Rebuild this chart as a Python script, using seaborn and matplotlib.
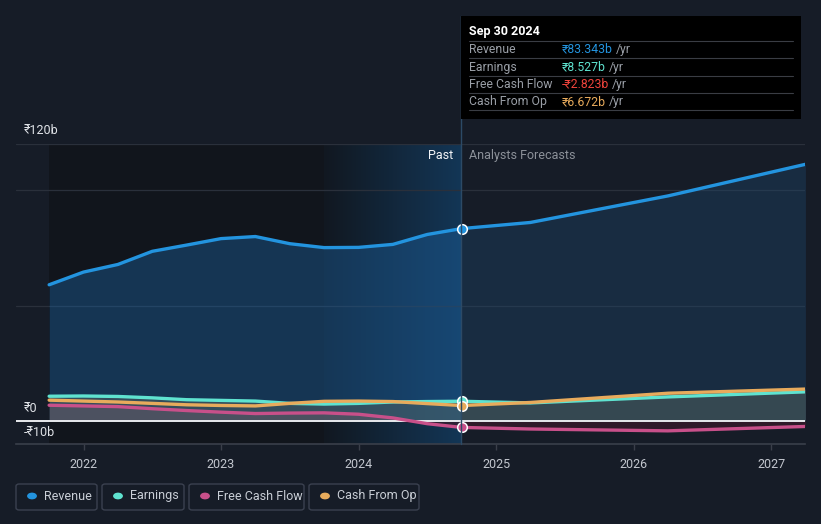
import numpy as np
import pandas as pd
import matplotlib
matplotlib.use("Agg")
import matplotlib.pyplot as plt
import seaborn as sns
from matplotlib.colors import LinearSegmentedColormap
from matplotlib.patches import Rectangle, FancyBboxPatch, Circle
from matplotlib.lines import Line2D

# Quarterly history (decimal years, Sep 2021 .. Sep 2024), values in ₹ billions
past_dates = [2021.75, 2022.0, 2022.25, 2022.5, 2022.75, 2023.0, 2023.25,
              2023.5, 2023.75, 2024.0, 2024.25, 2024.5, 2024.75]
past_revenue = [59.0, 64.5, 67.8, 73.5, 76.2, 79.0, 79.9, 76.8, 75.1, 75.2, 76.5, 80.8, 83.343]
past_earnings = [10.7, 10.8, 10.6, 10.0, 9.2, 8.9, 8.6, 7.6, 7.3, 7.6, 8.2, 8.4, 8.527]
past_fcf = [6.8, 6.5, 6.2, 5.3, 4.5, 3.8, 3.2, 3.4, 3.5, 2.9, 1.3, -1.2, -2.823]
past_cfo = [9.0, 8.6, 8.2, 7.6, 7.0, 6.7, 6.5, 7.6, 8.5, 8.6, 8.4, 7.5, 6.672]

# Analyst forecasts
fc_dates = [2024.75, 2025.25, 2026.25, 2027.25]
fc_revenue = [83.343, 86.0, 97.5, 111.2]
fc_earnings = [8.527, 7.8, 10.4, 12.6]
fc_fcf = [-2.823, -3.5, -4.3, -2.4]
fc_cfo = [6.672, 8.0, 12.0, 13.8]

metrics = ["Revenue", "Earnings", "Free Cash Flow", "Cash From Op"]
colors = {"Revenue": "#2394df", "Earnings": "#5fe3d0",
          "Free Cash Flow": "#c8508a", "Cash From Op": "#e8ab5c"}
year_ticks = [2022, 2023, 2024, 2025, 2026, 2027]
tooltip_values = ["₹83.343b", "₹8.527b", "-₹2.823b", "₹6.672b"]
tooltip_colors = ["#2394df", "#5fe3d0", "#f0443c", "#e8ab5c"]

BG = "#161c27"
W, H = 821, 524

sns.set_theme(style="dark")
plt.rcParams["font.family"] = ["Roboto", "DejaVu Sans"]

fig = plt.figure(figsize=(W / 100, H / 100), dpi=100, facecolor=BG)
ax = fig.add_axes([16 / W, 1 - 444 / H, (805 - 16) / W, 300 / H])
ax.set_facecolor(BG)


def px(x, y):
    return x / W, 1 - y / H


# background regions
ax.axvspan(2021.75, 2023.75, color="#11151c", zorder=0, lw=0)
grad = LinearSegmentedColormap.from_list("g", ["#111821", "#133656"])
ax.imshow(np.linspace(0, 1, 200).reshape(1, -1), cmap=grad, aspect="auto",
          extent=[2023.75, 2024.75, -10, 120], zorder=0.5)
ax.set_xlim(2021.509, 2027.247)
ax.set_ylim(-10, 120)

for g in [50, 100, 120]:
    ax.axhline(g, color="#2a303b", lw=0.9, zorder=1)

dates = past_dates + fc_dates[1:]
series = {
    "Revenue": past_revenue + fc_revenue[1:],
    "Earnings": past_earnings + fc_earnings[1:],
    "Free Cash Flow": past_fcf + fc_fcf[1:],
    "Cash From Op": past_cfo + fc_cfo[1:],
}

# area fills
ax.fill_between(past_dates, 0, past_revenue, color="#1c5d98", alpha=0.45, lw=0, zorder=2)
ax.fill_between(fc_dates, 0, fc_revenue, color="#1e4a72", alpha=0.35, lw=0, zorder=2)
ax.fill_between(dates, 0, np.maximum(series["Earnings"], series["Cash From Op"]),
                color="#5a6b66", alpha=0.45, lw=0, zorder=2.2)
ax.fill_between(dates, 0, np.minimum(series["Free Cash Flow"], 0),
                color="#3a1a2a", alpha=0.7, lw=0, zorder=2.2)
ax.fill_between(past_dates, 0, np.maximum(past_fcf, 0),
                color="#7a5a6a", alpha=0.35, lw=0, zorder=2.3)

df = pd.DataFrame([
    {"date": d, "value": v, "metric": m}
    for m in metrics for d, v in zip(dates, series[m])
])
sns.lineplot(data=df, x="date", y="value", hue="metric", hue_order=metrics,
             palette=colors, linewidth=2.4, legend=False, ax=ax, zorder=4,
             estimator=None, sort=True)

ax.axhline(0, color="#e8eaee", lw=1.4, zorder=3.5)

# highlighted points at Sep 30 2024
for m in metrics:
    ax.scatter([2024.75], [series[m][len(past_dates) - 1]], s=48, color=colors[m],
               edgecolor="white", linewidth=1.1, zorder=6)

# vertical marker line through the tooltip
fig.add_artist(Line2D([461 / W, 461 / W], [1 - 444 / H, 1 - 16 / H],
                      color="#2c4a66", lw=1, zorder=1))

# axes styling
for s in ["top", "right", "left"]:
    ax.spines[s].set_visible(False)
ax.spines["bottom"].set_color("#3a3f4a")
ax.spines["bottom"].set_linewidth(1.2)
ax.set_xticks(year_ticks)
ax.set_xticklabels([str(y) for y in year_ticks], color="#c3c7cf", fontsize=9)
ax.tick_params(axis="x", length=4, color="#3a3f4a", width=1, pad=6, bottom=True)
ax.set_yticks([])
ax.set_xlabel("")
ax.set_ylabel("")
ax.grid(False)

for lbl, yy in [("₹120b", 131), ("₹0", 409), ("-₹10b", 432)]:
    fig.text(*px(24, yy), lbl, color="#e0e3e8", fontsize=9, va="center", ha="left", zorder=7)

fig.text(*px(453, 156), "Past", color="#f2f4f7", fontsize=9, va="center", ha="right")
fig.text(*px(469, 156), "Analysts Forecasts", color="#8c9199", fontsize=9, va="center", ha="left")

# tooltip
fig.add_artist(Rectangle(px(461, 119), 340 / W, 103 / H, facecolor="#000000",
                         edgecolor="none", zorder=5))
fig.text(*px(469, 31), "Sep 30 2024", color="white", fontsize=9, fontweight="bold",
         va="center", ha="left", zorder=6)
for yy in [41, 58, 76, 93, 110]:
    fig.add_artist(Line2D([469 / W, 793 / W], [1 - yy / H] * 2, color="#3a3d44",
                          lw=0.8, zorder=6))
fig.canvas.draw()
renderer = fig.canvas.get_renderer()
for i, (m, val, col) in enumerate(zip(metrics, tooltip_values, tooltip_colors)):
    yy = 49.5 + i * 17.5
    fig.text(*px(469, yy), m, color="#9a9fa7", fontsize=8.8, va="center", ha="left", zorder=6)
    t = fig.text(*px(562, yy), val, color=col, fontsize=8.8, va="center", ha="left", zorder=6)
    bb = t.get_window_extent(renderer)
    fig.text((bb.x1 + 3) / W, 1 - yy / H, "/yr", color="#9a9fa7", fontsize=8.8,
             va="center", ha="left", zorder=6)

# legend boxes
boxes = [(16, 97), (102, 184), (189, 304), (309, 419)]
for (x0, x1), m in zip(boxes, metrics):
    fig.add_artist(FancyBboxPatch(px(x0, 510), (x1 - x0) / W, 26 / H,
                                  boxstyle="round,pad=0,rounding_size=0.004",
                                  facecolor="none", edgecolor="#3b4150", lw=1))
    fig.add_artist(Circle(px(x0 + 16, 496), 4.2 / W, color=colors[m]))
    fig.text(*px(x0 + 28, 496), m, color="#c9ced6", fontsize=9, va="center", ha="left")

fig.savefig("out.png", dpi=100, facecolor=BG)
